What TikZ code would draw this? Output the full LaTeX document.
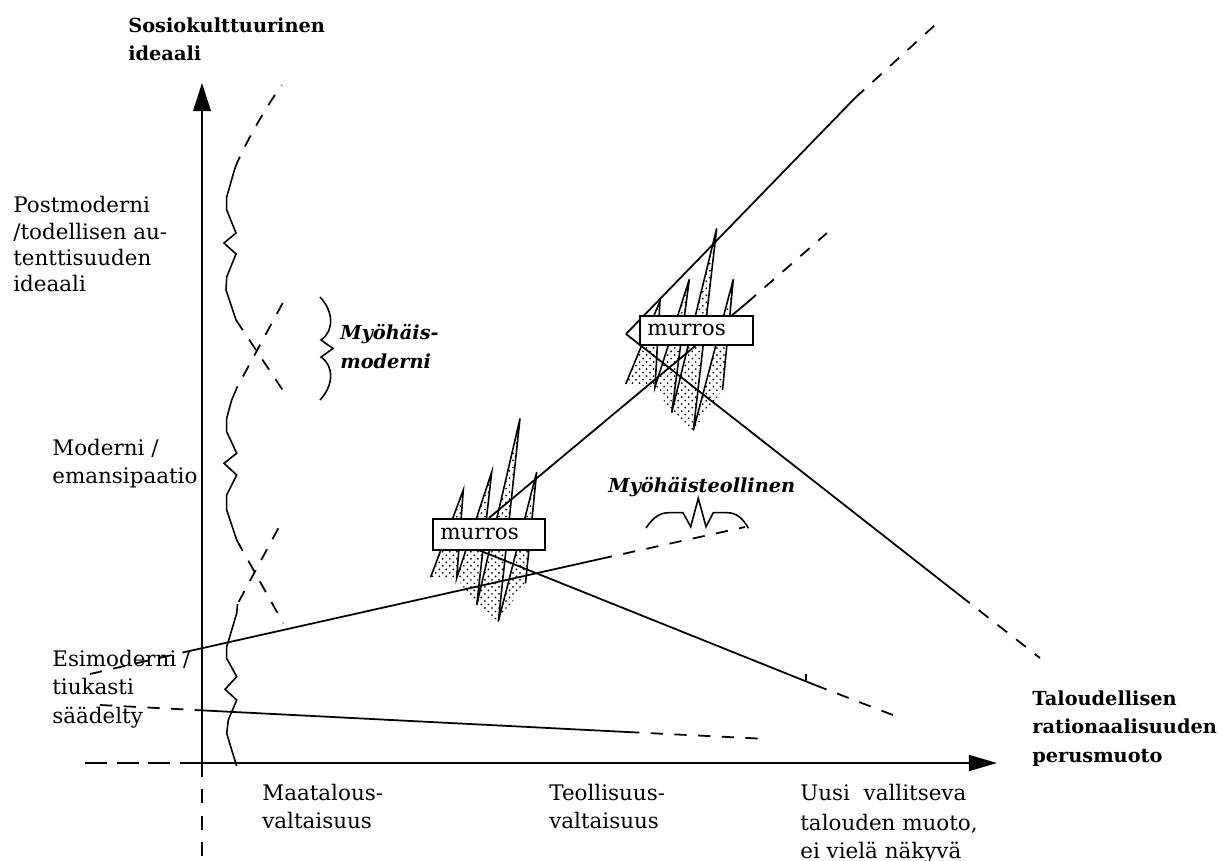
\documentclass[tikz,border=0pt]{standalone}
\usepackage{fontspec}
\setmainfont{DejaVu Serif}
\usetikzlibrary{arrows.meta,patterns}
\pgfdeclarepatternformonly{sparsedots}{\pgfqpoint{-1pt}{-1pt}}{\pgfqpoint{5pt}{5pt}}{\pgfqpoint{4pt}{4pt}}{%
  \pgfpathcircle{\pgfqpoint{0pt}{0pt}}{0.55pt}%
  \pgfpathcircle{\pgfqpoint{2pt}{2pt}}{0.55pt}%
  \pgfusepath{fill}}
\begin{document}
\begin{tikzpicture}[x=0.02cm,y=-0.02cm,
  axis/.style={line width=1.25pt},
  ln/.style={line width=1pt},
  dsh/.style={line width=1pt, dash pattern=on 7pt off 6.5pt},
  wave/.style={line width=0.9pt, line join=miter},
  txt/.style={anchor=base west, inner sep=0pt, font=\fontsize{12.2}{14}\selectfont},
  btxt/.style={anchor=base west, inner sep=0pt, font=\fontsize{11}{13}\selectfont\bfseries},
  bitxt/.style={anchor=base west, inner sep=0pt, font=\fontsize{11}{13}\selectfont\bfseries\itshape},
  spikefill/.style={pattern=sparsedots, pattern color=black},
  spikeline/.style={line width=0.9pt, line join=miter},
  mbox/.style={draw, line width=0.9pt, fill=white, anchor=north west, inner xsep=0.15cm, inner ysep=0pt, align=left, font=\fontsize{12.2}{14}\selectfont}
]
\useasboundingbox (0,0) rectangle (1219,861);

% axes
\coordinate (O) at (202,763);
\coordinate (ytop) at (202,83);
\coordinate (xend) at (997,763);
\coordinate (xleft) at (85,763);
\coordinate (ybot) at (202,861);
\draw[axis,-{Triangle[length=16pt,width=10pt]}] (O) -- (ytop);
\draw[axis,-{Triangle[length=16pt,width=9pt]}] (O) -- (xend);
\draw[axis, dash pattern=on 12.5pt off 5.5pt] (xleft) -- (O);
\draw[axis, dash pattern=on 8pt off 7pt] (O) -- (ybot);

% line 1 (Esimoderni)
\coordinate (l1a) at (90,674);
\coordinate (l1b) at (185,652);
\coordinate (l1c) at (600,559);
\coordinate (l1d) at (745,527);
\draw[dsh] (l1a) -- (l1b);
\draw[ln] (l1b) -- (l1c);
\draw[dsh] (l1c) -- (l1d);

% lower line
\coordinate (l0a) at (100,705);
\coordinate (l0b) at (195,710);
\coordinate (l0c) at (627,732);
\coordinate (l0d) at (768,739);
\draw[dsh] (l0a) -- (l0b);
\draw[ln] (l0b) -- (l0c);
\draw[dsh] (l0c) -- (l0d);

% line 2 (middle rising)
\coordinate (l2a) at (489,518);
\coordinate (l2b) at (746.7,303);
\coordinate (l2c) at (827,233);
\draw[ln] (l2a) -- (l2b);
\draw[dsh] (l2b) -- (l2c);

% vertex at murros 2
\coordinate (V2) at (626,334);
\coordinate (l3b) at (855,98);
\coordinate (l3c) at (935,25);
\draw[ln] (V2) -- (l3b);
\draw[dsh] (l3b) -- (l3c);
\coordinate (l4b) at (960,595.5);
\coordinate (l4c) at (1040,658);
\draw[ln] (V2) -- (l4b);
\draw[dsh] (l4b) -- (l4c);

% line 5 (descending from murros 1)
\coordinate (l5a) at (476,549);
\coordinate (l5b) at (815,685);
\coordinate (l5c) at (898,717);
\coordinate (tick1) at (806,681);
\coordinate (tick2) at (806,673.5);
\draw[ln] (l5a) -- (l5b);
\draw[dsh] (l5b) -- (l5c);
\draw[ln] (tick1) -- (tick2);

% wavy curves
\draw[wave] (235,168) -- (226.7,197) -- (226.7,210) -- (236,233) -- (224,243) -- (236,254) -- (226.7,277) -- (226,290) -- (231.7,307) -- (236,320);
\draw[dsh] (235,168) .. controls (243,148) and (262,113) .. (281.7,85);
\draw[dsh] (236,320) -- (288,398);
\draw[dsh] (282.7,303) -- (236.7,388);
\draw[wave] (236.7,388.3) -- (231.7,400) -- (226.7,418.3) -- (226.7,431.7) -- (236.7,453.3) -- (224,463.3) -- (236.7,475) -- (226.7,495) -- (226.7,510) -- (231.7,525) -- (236.7,540);
\draw[dsh] (236.7,540) -- (283.3,623.3);
\draw[dsh] (278.3,528.3) -- (237.5,604);
\draw[wave] (237.5,604) -- (236.7,613.3) -- (231.7,630) -- (226.7,646.7) -- (226.7,658.3) -- (236.7,676.7) -- (225,689.3) -- (236.7,700) -- (228.3,720) -- (226.7,733.3) -- (231.7,750) -- (236.7,766);

% braces
\draw[wave] (320,297) .. controls (334,312) and (334,331) .. (321,340) -- (333,348.5) -- (321,357) .. controls (334,366) and (334,385) .. (320,400);
\draw[wave] (646,528) .. controls (654,516) and (661,512.7) .. (669,512.7) -- (683,512.7) -- (690.7,526.7) -- (698.3,498.3) -- (706,526.7) -- (713.3,512.7) -- (727,512.7) .. controls (736,512.7) and (743,518) .. (748.3,528.3);

% murros 1 spikes
\fill[spikefill] (430.7,577) -- (463.3,490) -- (456.7,578) -- cycle;
\fill[spikefill] (456.7,578) -- (491.7,472) -- (476.7,605) -- cycle;
\fill[spikefill] (476.7,605) -- (520,418.5) -- (498.3,621.5) -- cycle;
\fill[spikefill] (498.3,621.5) -- (536.7,472) -- (525.5,583.3) -- cycle;
\draw[spikeline] (430.7,577) -- (463.3,490) -- (456.7,578) -- (491.7,472) -- (476.7,605) -- (520,418.5) -- (498.3,621.5) -- (536.7,472) -- (525.5,583.3);

% murros 2 spikes
\fill[spikefill] (625.7,384) -- (660,301) -- (655,387) -- cycle;
\fill[spikefill] (655,387) -- (689.3,279.3) -- (671.7,412.7) -- cycle;
\fill[spikefill] (671.7,412.7) -- (716.7,228.3) -- (693.3,430.5) -- cycle;
\fill[spikefill] (693.3,430.5) -- (733.3,279.3) -- (722.5,390) -- cycle;
\draw[spikeline] (625.7,384) -- (660,301) -- (655,387) -- (689.3,279.3) -- (671.7,412.7) -- (716.7,228.3) -- (693.3,430.5) -- (733.3,279.3) -- (722.5,390);

% murros boxes
\node[mbox, minimum width=2.24cm, minimum height=0.62cm, text width=1.94cm] (m1) at (432,518) {murros};
\node[mbox, minimum width=2.26cm, minimum height=0.58cm, text width=1.96cm] (m2) at (639,315) {murros};

% texts
\node[btxt] (s1) at (128,33) {Sosiokulttuurinen};
\node[btxt] (s2) at (128,61) {ideaali};
\node[txt] (p1) at (13,213) {Postmoderni};
\node[txt] (p2) at (13,239.5) {/todellisen au-};
\node[txt] (p3) at (13,266) {tenttisuuden};
\node[txt] (p4) at (13,292) {ideaali};
\node[txt] (mo1) at (52,455) {Moderni /};
\node[txt] (mo2) at (52,483) {emansipaatio};
\node[txt] (e1) at (52,666) {Esimoderni /};
\node[txt] (e2) at (52,694) {tiukasti};
\node[txt] (e3) at (52,723) {säädelty};
\node[bitxt] (mm1) at (340,339) {Myöhäis-};
\node[bitxt] (mm2) at (340,368) {moderni};
\node[bitxt] (mt) at (608,492) {Myöhäisteollinen};
\node[txt] (a1) at (262,800) {Maatalous-};
\node[txt] (a2) at (262,828) {valtaisuus};
\node[txt] (b1) at (549,800) {Teollisuus-};
\node[txt] (b2) at (549,828) {valtaisuus};
\node[txt] (c1) at (800,800) {Uusi\ \ vallitseva};
\node[txt] (c2) at (800,830) {talouden muoto,};
\node[txt] (c3) at (800,858) {ei vielä näkyvä};
\node[btxt] (r1) at (1032,705) {Taloudellisen};
\node[btxt] (r2) at (1032,733) {rationaalisuuden};
\node[btxt] (r3) at (1032,762) {perusmuoto};
\end{tikzpicture}
\end{document}
